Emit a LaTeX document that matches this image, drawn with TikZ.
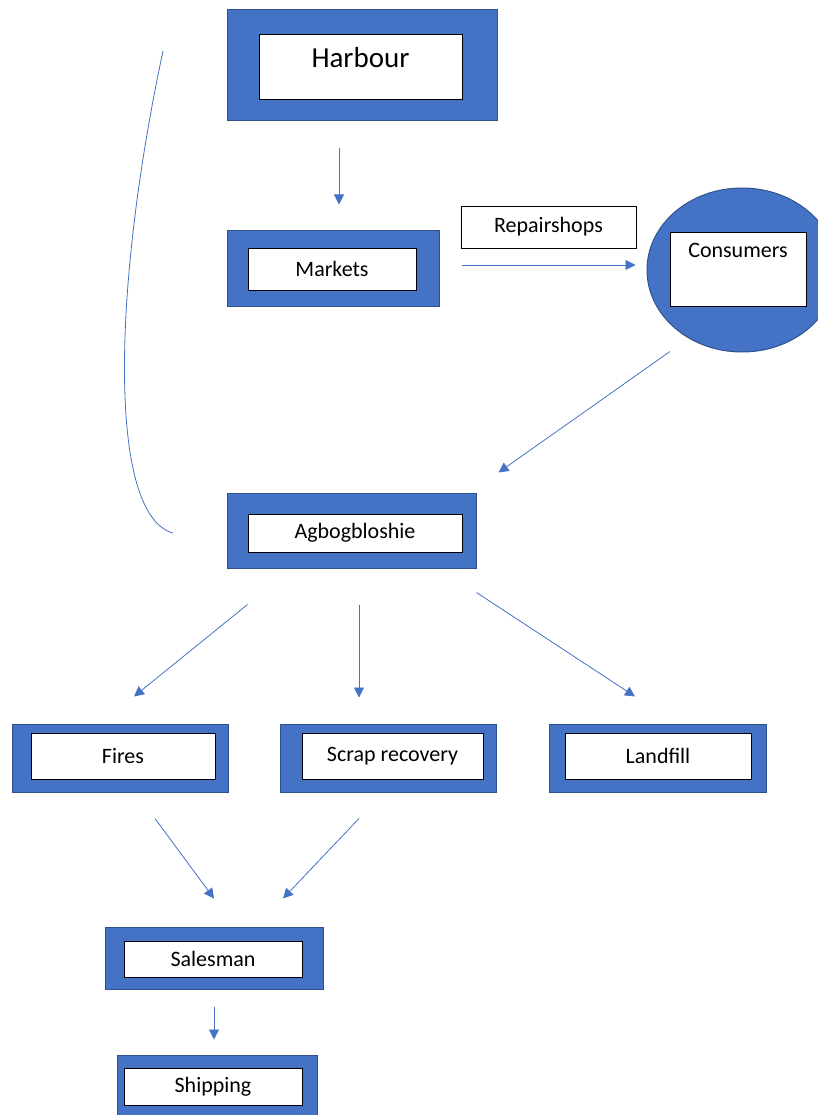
\documentclass[tikz,border=0pt]{standalone}
\usepackage{fontspec}
\setmainfont{Carlito}
\usetikzlibrary{arrows.meta}
\usetikzlibrary{shapes.geometric}
\definecolor{boxblue}{HTML}{4472C4}
\definecolor{boxedge}{HTML}{2F528F}
\tikzset{
  outerbox/.style={draw=boxedge, fill=boxblue, line width=1pt, inner sep=0pt},
  innerbox/.style={draw=black, fill=white, line width=0.7pt, inner sep=0pt, font=\fontsize{22}{26}\selectfont},
  flow/.style={draw=boxblue, line width=0.8pt, -{Triangle[length=10pt,width=10pt]}}
}

\begin{document}
\begin{tikzpicture}[x=1pt,y=-1pt]
  \useasboundingbox (0,0) rectangle (817,1115);

  % Top row
  \node[outerbox, minimum width=270pt, minimum height=111pt] (harbour) at (362,65.5) {};
  \node[innerbox, minimum width=203pt, text height=34pt, text depth=31pt, font=\fontsize{29}{34}\selectfont] (harbourtxt) at (360.5,66.5) {Harbour};

  \node[outerbox, minimum width=212pt, minimum height=75pt] (markets) at (333,268.5) {};
  \node[innerbox, minimum width=168pt, minimum height=42pt] (marketstxt) at (332,269) {Markets};

  \node[innerbox, minimum width=175pt, minimum height=42pt] (repair) at (548.5,227) {Repairshops};

  \node[outerbox, ellipse, minimum width=190pt, minimum height=164pt] (consumers) at (742,270) {};
  \node[innerbox, minimum width=136pt, text height=25pt, text depth=49pt] (consumerstxt) at (738,269) {Consumers};

  % Middle
  \node[outerbox, minimum width=249pt, minimum height=75pt] (agbo) at (351.5,530.5) {};
  \node[innerbox, minimum width=214pt, minimum height=38pt] (agbotxt) at (355,533) {Agbogbloshie};

  % Three outcomes
  \node[outerbox, minimum width=216pt, minimum height=68pt] (fires) at (120,758) {};
  \node[innerbox, minimum width=184pt, minimum height=46pt] (firestxt) at (123,756) {Fires};

  \node[outerbox, minimum width=216pt, minimum height=68pt] (scrap) at (388,758) {};
  \node[innerbox, minimum width=181pt, minimum height=46pt] (scraptxt) at (392.5,756) {Scrap recovery};

  \node[outerbox, minimum width=217pt, minimum height=68pt] (landfill) at (657.5,758) {};
  \node[innerbox, minimum width=186pt, minimum height=46pt] (landfilltxt) at (658,756) {Landfill};

  % Bottom
  \node[outerbox, minimum width=218pt, minimum height=62pt] (salesman) at (214,958) {};
  \node[innerbox, minimum width=178pt, minimum height=36pt] (salesmantxt) at (213,959) {Salesman};

  \node[outerbox, minimum width=200pt, minimum height=66pt] (shipping) at (217,1088) {};
  \node[innerbox, minimum width=178pt, minimum height=37pt] (shippingtxt) at (213,1086.5) {Shipping};

  % Arrows
  \draw[flow] ([xshift=-23pt,yshift=-27pt]harbour.south) -- ([xshift=6pt,yshift=26pt]markets.north);
  \draw[flow] ([xshift=22pt,yshift=3.5pt]markets.east) -- ([xshift=-11pt,yshift=5pt]consumers.west);
  \draw[flow] ([xshift=-72pt,yshift=1pt]consumers.south) -- ([xshift=22pt,yshift=20pt]agbo.north east);
  \draw[flow] ([xshift=21pt,yshift=-36pt]agbo.south west) -- ([xshift=14pt,yshift=27pt]fires.north);
  \draw[flow] ([xshift=7.5pt,yshift=-36pt]agbo.south) -- ([xshift=-29pt,yshift=26pt]scrap.north);
  \draw[flow] ([yshift=-24pt]agbo.south east) -- ([xshift=-22.5pt,yshift=27pt]landfill.north);
  \draw[flow] ([xshift=35pt,yshift=-26pt]fires.south) -- ([yshift=28pt]salesman.north);
  \draw[flow] ([xshift=-29pt,yshift=-26pt]scrap.south) -- ([xshift=69pt,yshift=28pt]salesman.north);
  \draw[flow] ([yshift=-17pt]salesman.south) -- ([xshift=-3pt,yshift=15pt]shipping.north);

  % Loop back line on the left
  \draw[boxblue, line width=0.8pt] (163,51) .. controls (112,290) and (108,515) .. (173,533);
\end{tikzpicture}
\end{document}
